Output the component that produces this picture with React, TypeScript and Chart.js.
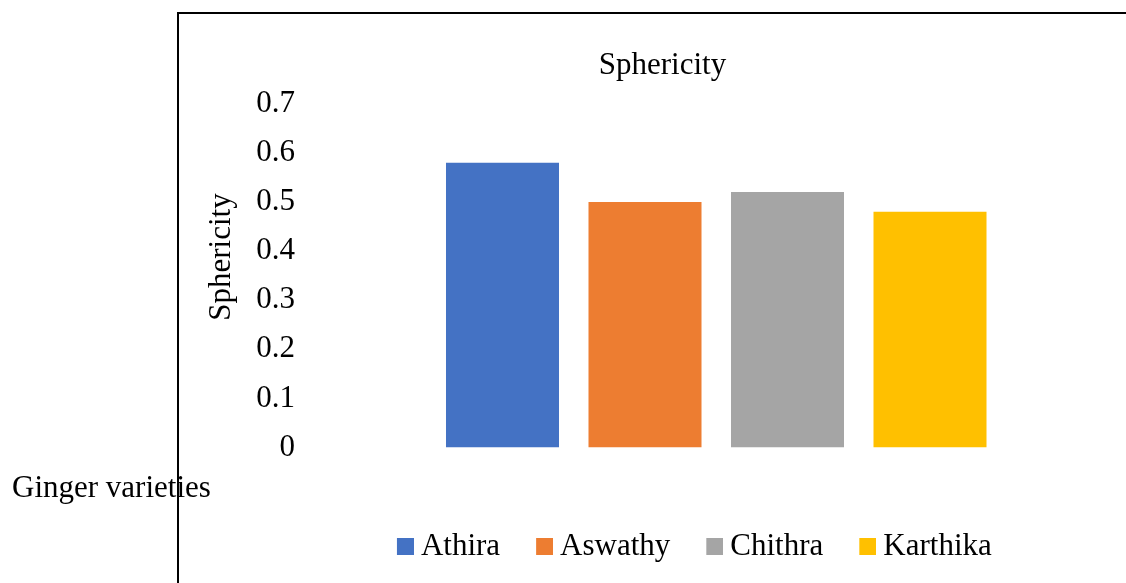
import React, { useEffect, useRef } from "react";
import { Chart, registerables } from "chart.js";

Chart.register(...registerables);

const categories = ["Athira", "Aswathy", "Chithra", "Karthika"];
const sphericity = [0.58, 0.5, 0.52, 0.48];
const barColors = ["#4472C4", "#ED7D31", "#A5A5A5", "#FFC000"];
const yTickValues = [0, 0.1, 0.2, 0.3, 0.4, 0.5, 0.6, 0.7];
const chartTitle = "Sphericity";
const yTitle = "Sphericity";
const xTitle = "Ginger varieties";

const FONT = "'Liberation Serif', 'Times New Roman', serif";
const FS = 31;
const BOXW = 35;
const SW = 17;
const LEG_PAD = 9.5;

const PAD_LEFT = 323.75;
const AREA_LEFT = 431.25;
const AREA_RIGHT = 1001.25;
const TICK_RIGHT = 295;

const fmt = (v: number) => String(Math.round(v * 10) / 10);

function makeSwatch(color: string) {
  const c = document.createElement("canvas");
  c.width = BOXW + SW;
  c.height = SW;
  const ctx = c.getContext("2d")!;
  ctx.fillStyle = color;
  ctx.fillRect(BOXW, 0, SW, SW);
  return c;
}

const framePlugin = {
  id: "frame",
  afterDraw(chart: any) {
    const ctx = chart.ctx;
    ctx.save();
    ctx.strokeStyle = "#000";
    ctx.lineWidth = 2;
    ctx.beginPath();
    ctx.moveTo(178, 600);
    ctx.lineTo(178, 13);
    ctx.lineTo(1200, 13);
    ctx.stroke();
    ctx.fillStyle = "#000";
    ctx.font = `${FS}px ${FONT}`;
    ctx.textBaseline = "alphabetic";
    ctx.textAlign = "left";
    ctx.fillText(xTitle, 12, 497);
    ctx.translate(222, 257);
    ctx.rotate(-Math.PI / 2);
    ctx.textAlign = "center";
    ctx.textBaseline = "middle";
    ctx.fillText(yTitle, 0, 0);
    ctx.restore();
  },
};

export default function App() {
  const ref = useRef<HTMLCanvasElement>(null);
  useEffect(() => {
    document.body.style.margin = "0";
    const swatches = barColors.map(makeSwatch);
    const m = document.createElement("canvas").getContext("2d")!;
    m.font = `${FS}px ${FONT}`;
    const widest = Math.max(...yTickValues.map((v) => m.measureText(fmt(v)).width));
    const tickPad = TICK_RIGHT - AREA_LEFT - widest;
    const chart = new Chart(ref.current!, {
      type: "bar",
      data: {
        labels: categories,
        datasets: categories.map((c, i) => ({
          label: c,
          data: categories.map((_, j) => (j === i ? sphericity[i] : null)),
          backgroundColor: barColors[i],
          borderWidth: 0,
          categoryPercentage: 1,
          barPercentage: 0.793,
          skipNull: true,
        })),
      },
      options: {
        responsive: false,
        animation: false,
        layout: { padding: { left: PAD_LEFT, right: 1126 - AREA_RIGHT, top: 47, bottom: 11 } },
        scales: {
          x: {
            type: "category",
            grid: { display: false },
            border: { display: false },
            ticks: { display: false },
            afterFit(scale: any) {
              scale.height = 74;
            },
          },
          y: {
            min: yTickValues[0],
            max: yTickValues[yTickValues.length - 1],
            grid: { display: false, drawTicks: false },
            border: { display: false },
            ticks: {
              stepSize: yTickValues[1] - yTickValues[0],
              color: "#000",
              font: { family: FONT, size: FS },
              mirror: true,
              crossAlign: "far",
              padding: tickPad,
              callback: (v: any) => fmt(Number(v)),
            },
            title: { display: false },
            afterFit(scale: any) {
              scale.width = AREA_LEFT - PAD_LEFT;
            },
          },
        },
        plugins: {
          title: {
            display: true,
            text: chartTitle,
            color: "#000",
            font: { family: FONT, size: FS, weight: "normal" },
            padding: { top: 0, bottom: 19.5 },
          },
          legend: {
            position: "bottom",
            align: "end",
            labels: {
              color: "#000",
              font: { family: FONT, size: FS },
              usePointStyle: true,
              pointStyleWidth: BOXW,
              boxHeight: SW,
              padding: LEG_PAD,
              generateLabels(ch: any) {
                const items = Chart.defaults.plugins.legend.labels.generateLabels(ch);
                return items.map((it: any) => ({ ...it, pointStyle: swatches[it.datasetIndex] }));
              },
            },
          },
          tooltip: { enabled: false },
        },
      },
      plugins: [framePlugin],
    } as any);
    return () => chart.destroy();
  }, []);
  return (
    <div style={{ position: "fixed", left: 0, top: 0, width: 1126, height: 583 }}>
      <canvas ref={ref} width={1126} height={583} />
    </div>
  );
}
